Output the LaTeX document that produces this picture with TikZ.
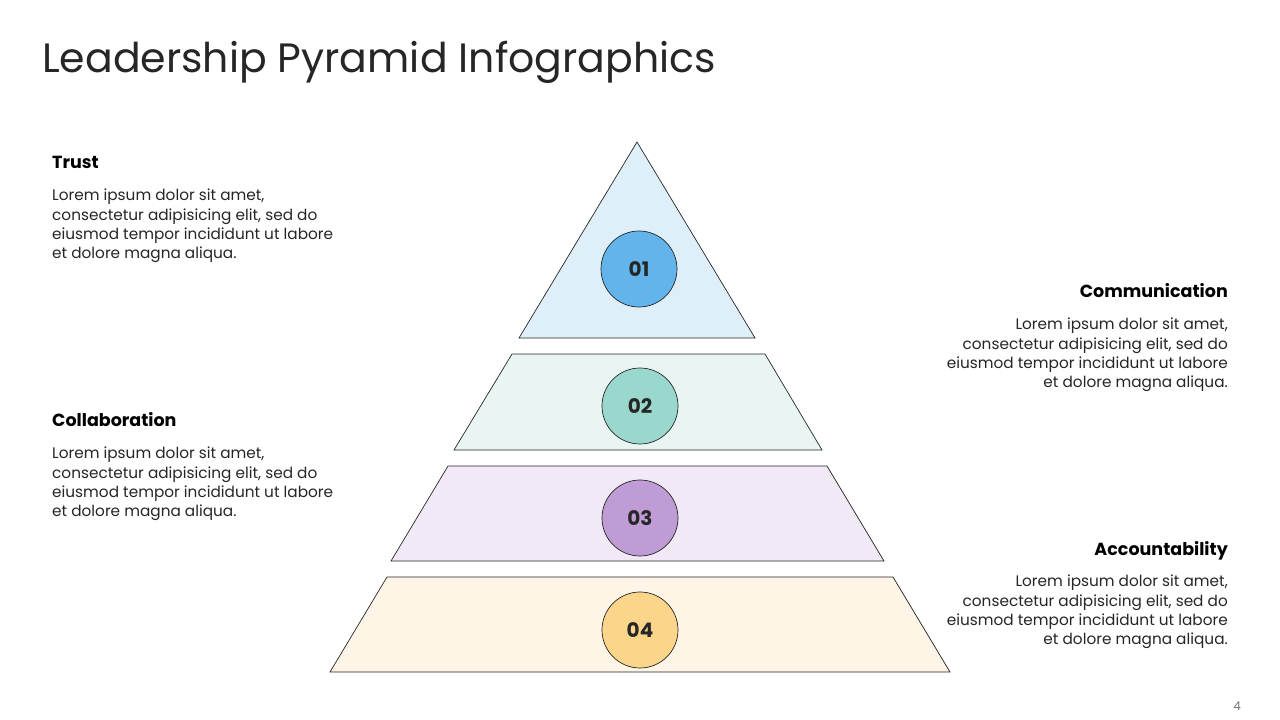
\documentclass[tikz,border=0pt]{standalone}
\usepackage{fontspec}
\setmainfont{Poppins}
\definecolor{fillA}{HTML}{DFEFFA}
\definecolor{dotA}{HTML}{63B4EA}
\definecolor{fillB}{HTML}{E9F5F2}
\definecolor{dotB}{HTML}{9AD8CE}
\definecolor{fillC}{HTML}{F1E9F5}
\definecolor{dotC}{HTML}{C09CD6}
\definecolor{fillD}{HTML}{FEF5E6}
\definecolor{dotD}{HTML}{FAD58A}
\definecolor{ink}{HTML}{262626}
\begin{document}
\begin{tikzpicture}[x=1pt,y=-1pt,
  layer/.style={draw=ink,line width=0.7pt},
  num/.style={draw=ink,line width=0.7pt,circle,minimum size=76pt,inner sep=0pt,
    font=\fontsize{20}{20}\selectfont\bfseries,text=ink},
  head/.style={font=\fontsize{17.5}{20}\selectfont\bfseries,inner sep=0pt,text=black},
  body/.style={font=\fontsize{15.3}{19.3}\selectfont,inner sep=0pt,text=ink}]
\useasboundingbox[fill=white] (0,0) rectangle (1280,720);

% title
\node[anchor=base west,inner sep=0pt,font=\fontsize{41}{41}\selectfont,text=ink] (title) at (42,72) {Leadership Pyramid Infographics};

% pyramid
\path[layer,fill=fillA] (637,142) -- (755,338) -- (519,338) -- cycle;
\path[layer,fill=fillB] (512,354) -- (765,354) -- (822,450) -- (454,450) -- cycle;
\path[layer,fill=fillC] (448,466) -- (827,466) -- (884,561) -- (391,561) -- cycle;
\path[layer,fill=fillD] (387,577) -- (893,577) -- (950,672) -- (330,672) -- cycle;

\node[num,fill=dotA] (n1) at (639,269) {01};
\node[num,fill=dotB] (n2) at (640,406) {02};
\node[num,fill=dotC] (n3) at (640,518) {03};
\node[num,fill=dotD] (n4) at (640,630) {04};

% left texts
\node[head,anchor=base west] (trust) at (52,168) {Trust};
\node[body,anchor=north west,align=left] (trustTxt) at (52,189) {Lorem ipsum dolor sit amet,\\consectetur adipisicing elit, sed do\\eiusmod tempor incididunt ut labore\\et dolore magna aliqua.};
\node[head,anchor=base west] (collab) at (52,426) {Collaboration};
\node[body,anchor=north west,align=left] (collabTxt) at (52,447) {Lorem ipsum dolor sit amet,\\consectetur adipisicing elit, sed do\\eiusmod tempor incididunt ut labore\\et dolore magna aliqua.};

% right texts
\node[head,anchor=base east] (comm) at (1228,297) {Communication};
\node[body,anchor=north east,align=right] (commTxt) at (1228,318) {Lorem ipsum dolor sit amet,\\consectetur adipisicing elit, sed do\\eiusmod tempor incididunt ut labore\\et dolore magna aliqua.};
\node[head,anchor=base east] (acc) at (1228,555) {Accountability};
\node[body,anchor=north east,align=right] (accTxt) at (1228,575) {Lorem ipsum dolor sit amet,\\consectetur adipisicing elit, sed do\\eiusmod tempor incididunt ut labore\\et dolore magna aliqua.};

\node[anchor=base east,inner sep=0pt,font=\fontsize{12}{12}\selectfont,text=black!55] (page) at (1241,710) {4};
\end{tikzpicture}
\end{document}
